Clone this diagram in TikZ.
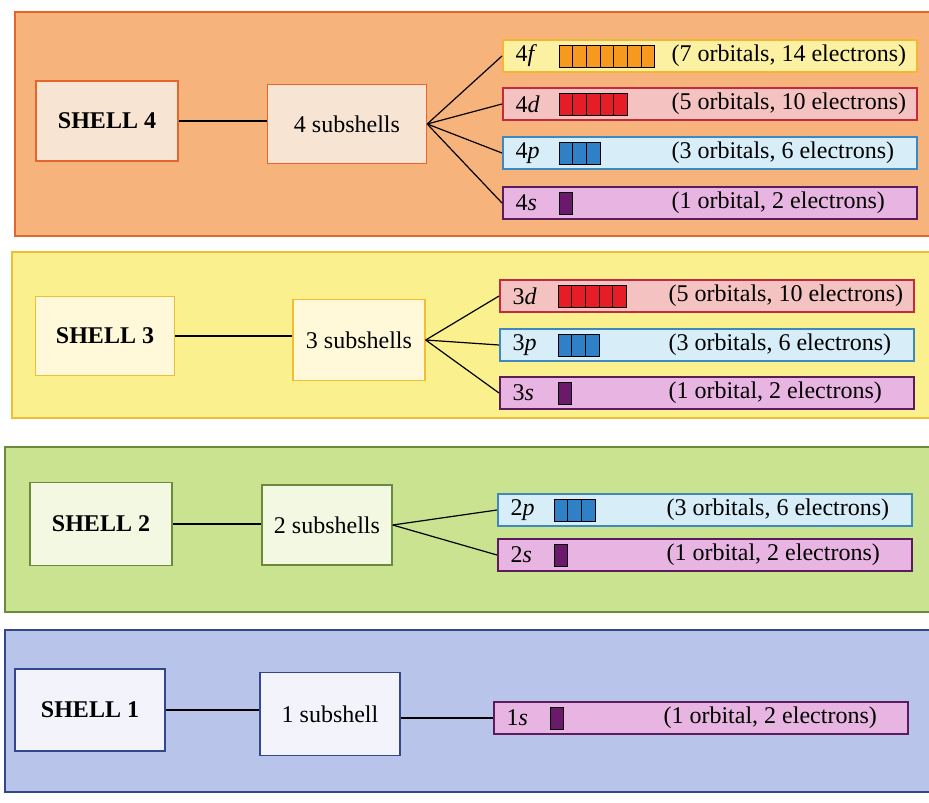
\documentclass[tikz,border=0pt]{standalone}
\usepackage{fontspec}
\setmainfont{Liberation Serif}
\usetikzlibrary{positioning}
% panel colours
\definecolor{orpanel}{HTML}{F6B47C}
\definecolor{orline}{HTML}{E5652C}
\definecolor{orbox}{HTML}{F7E4D2}
\definecolor{yepanel}{HTML}{FBF08E}
\definecolor{yeline}{HTML}{F0BE2E}
\definecolor{yebox}{HTML}{FFF8D9}
\definecolor{grpanel}{HTML}{C9E390}
\definecolor{grline}{HTML}{6B8A3C}
\definecolor{grbox}{HTML}{F3F8E3}
\definecolor{blpanel}{HTML}{B8C4E9}
\definecolor{blline}{HTML}{33478C}
\definecolor{blbox}{HTML}{F3F4FB}
% subshell colours
\definecolor{fpale}{HTML}{FCF0A2}
\definecolor{fline}{HTML}{F4B634}
\definecolor{forb}{HTML}{F7981F}
\definecolor{dpale}{HTML}{F4C3C1}
\definecolor{dline}{HTML}{C42A3E}
\definecolor{dorb}{HTML}{E61D26}
\definecolor{ppale}{HTML}{D7EEF9}
\definecolor{pline}{HTML}{3E88C0}
\definecolor{porb}{HTML}{2F80C7}
\definecolor{spale}{HTML}{E8B5E2}
\definecolor{sline}{HTML}{5C1C5C}
\definecolor{sorb}{HTML}{6B1A6B}

\begin{document}
\begin{tikzpicture}[x=1pt,y=-1pt,
  font=\fontsize{24}{28}\selectfont,
  panel/.style={line width=1.8pt},
  shellbox/.style={draw, line width=1.4pt, font=\fontsize{24}{28}\selectfont\bfseries},
  subbox/.style={draw, line width=1.4pt},
  subrow/.style={draw, line width=1.8pt, minimum width=414pt, minimum height=32pt, anchor=west, inner sep=0pt},
  link/.style={line width=1.2pt, black}]

  \clip (0,0) rectangle (929,803);

  % Panels
  \filldraw[panel, fill=orpanel, draw=orline] (15,12) rectangle (940,236);
  \filldraw[panel, fill=yepanel, draw=yeline] (12,252) rectangle (940,418);
  \filldraw[panel, fill=grpanel, draw=grline] (5,447) rectangle (940,612);
  \filldraw[panel, fill=blpanel, draw=blline] (5,630) rectangle (940,792);

  % Shell 4
  \node[shellbox, fill=orbox, draw=orline, minimum width=142pt, minimum height=80pt] (shell4) at (107,121) {SHELL 4};
  \node[subbox, fill=orbox, draw=orline, minimum width=159pt, minimum height=79pt] (sub4) at (347,124) {4 subshells};
  \draw[link] (shell4.east) -- (shell4.east -| sub4.west);
  \def\xa{502}
  \foreach \nm/\yy/\lab/\n/\txt/\fc/\dc/\oc in {
      4f/56/{4\textit{f}}/7/{(7 orbitals, 14 electrons)}/fpale/fline/forb,
      4d/104/{4\textit{d}}/5/{(5 orbitals, 10 electrons)}/dpale/dline/dorb,
      4p/153/{4\textit{p}}/3/{(3 orbitals, 6 electrons)}/ppale/pline/porb,
      4s/203/{4\textit{s}}/1/{(1 orbital, 2 electrons)}/spale/sline/sorb}{
    \node[subrow, fill=\fc, draw=\dc] (r\nm) at (\xa,\yy) {};
    \node[anchor=west] (l\nm) at ({\xa+10},\yy) {\lab};
    \foreach \k in {1,...,\n}
      \draw[fill=\oc, line width=1pt] ({\xa+57+13.7*(\k-1)},{\yy-11}) rectangle ++(13.7,22);
    \node[anchor=west] (t\nm) at ({\xa+166},\yy) {\txt};
    \draw[link] (sub4.east) -- (r\nm.west);
  }

  % Shell 3
  \node[shellbox, fill=yebox, draw=yeline, minimum width=139pt, minimum height=79pt] (shell3) at (105,336) {SHELL 3};
  \node[subbox, fill=yebox, draw=yeline, minimum width=132pt, minimum height=81pt] (sub3) at (359,340) {3 subshells};
  \draw[link] (shell3.east) -- (shell3.east -| sub3.west);
  \def\xa{499}
  \foreach \nm/\yy/\lab/\n/\txt/\fc/\dc/\oc in {
      3d/296/{3\textit{d}}/5/{(5 orbitals, 10 electrons)}/dpale/dline/dorb,
      3p/345/{3\textit{p}}/3/{(3 orbitals, 6 electrons)}/ppale/pline/porb,
      3s/393/{3\textit{s}}/1/{(1 orbital, 2 electrons)}/spale/sline/sorb}{
    \node[subrow, fill=\fc, draw=\dc] (r\nm) at (\xa,\yy) {};
    \node[anchor=west] (l\nm) at ({\xa+10},\yy) {\lab};
    \foreach \k in {1,...,\n}
      \draw[fill=\oc, line width=1pt] ({\xa+59+13.7*(\k-1)},{\yy-11}) rectangle ++(13.7,22);
    \node[anchor=west] (t\nm) at ({\xa+166},\yy) {\txt};
    \draw[link] (sub3.east) -- (r\nm.west);
  }

  % Shell 2
  \node[shellbox, fill=grbox, draw=grline, minimum width=142pt, minimum height=83pt] (shell2) at (101,524) {SHELL 2};
  \node[subbox, fill=grbox, draw=grline, minimum width=130pt, minimum height=80pt] (sub2) at (327,525) {2 subshells};
  \draw[link] (shell2.east) -- (shell2.east -| sub2.west);
  \def\xa{497}
  \foreach \nm/\yy/\lab/\n/\txt/\fc/\dc/\oc in {
      2p/510/{2\textit{p}}/3/{(3 orbitals, 6 electrons)}/ppale/pline/porb,
      2s/555/{2\textit{s}}/1/{(1 orbital, 2 electrons)}/spale/sline/sorb}{
    \node[subrow, fill=\fc, draw=\dc] (r\nm) at (\xa,\yy) {};
    \node[anchor=west] (l\nm) at ({\xa+10},\yy) {\lab};
    \foreach \k in {1,...,\n}
      \draw[fill=\oc, line width=1pt] ({\xa+57+13.7*(\k-1)},{\yy-11}) rectangle ++(13.7,22);
    \node[anchor=west] (t\nm) at ({\xa+166},\yy) {\txt};
    \draw[link] (sub2.east) -- (r\nm.west);
  }

  % Shell 1
  \node[shellbox, fill=blbox, draw=blline, minimum width=150pt, minimum height=82pt] (shell1) at (90,710) {SHELL 1};
  \node[subbox, fill=blbox, draw=blline, minimum width=140pt, minimum height=83pt] (sub1) at (330,714) {1 subshell};
  \draw[link] (shell1.east) -- (shell1.east -| sub1.west);
  \node[subrow, fill=spale, draw=sline] (r1s) at (493,718) {};
  \node[anchor=west] (l1s) at (503,718) {1\textit{s}};
  \draw[fill=sorb, line width=1pt] (550,707) rectangle ++(13.7,22);
  \node[anchor=west] (t1s) at (660,718) {(1 orbital, 2 electrons)};
  \draw[link] (sub1.east |- r1s.west) -- (r1s.west);
\end{tikzpicture}
\end{document}
